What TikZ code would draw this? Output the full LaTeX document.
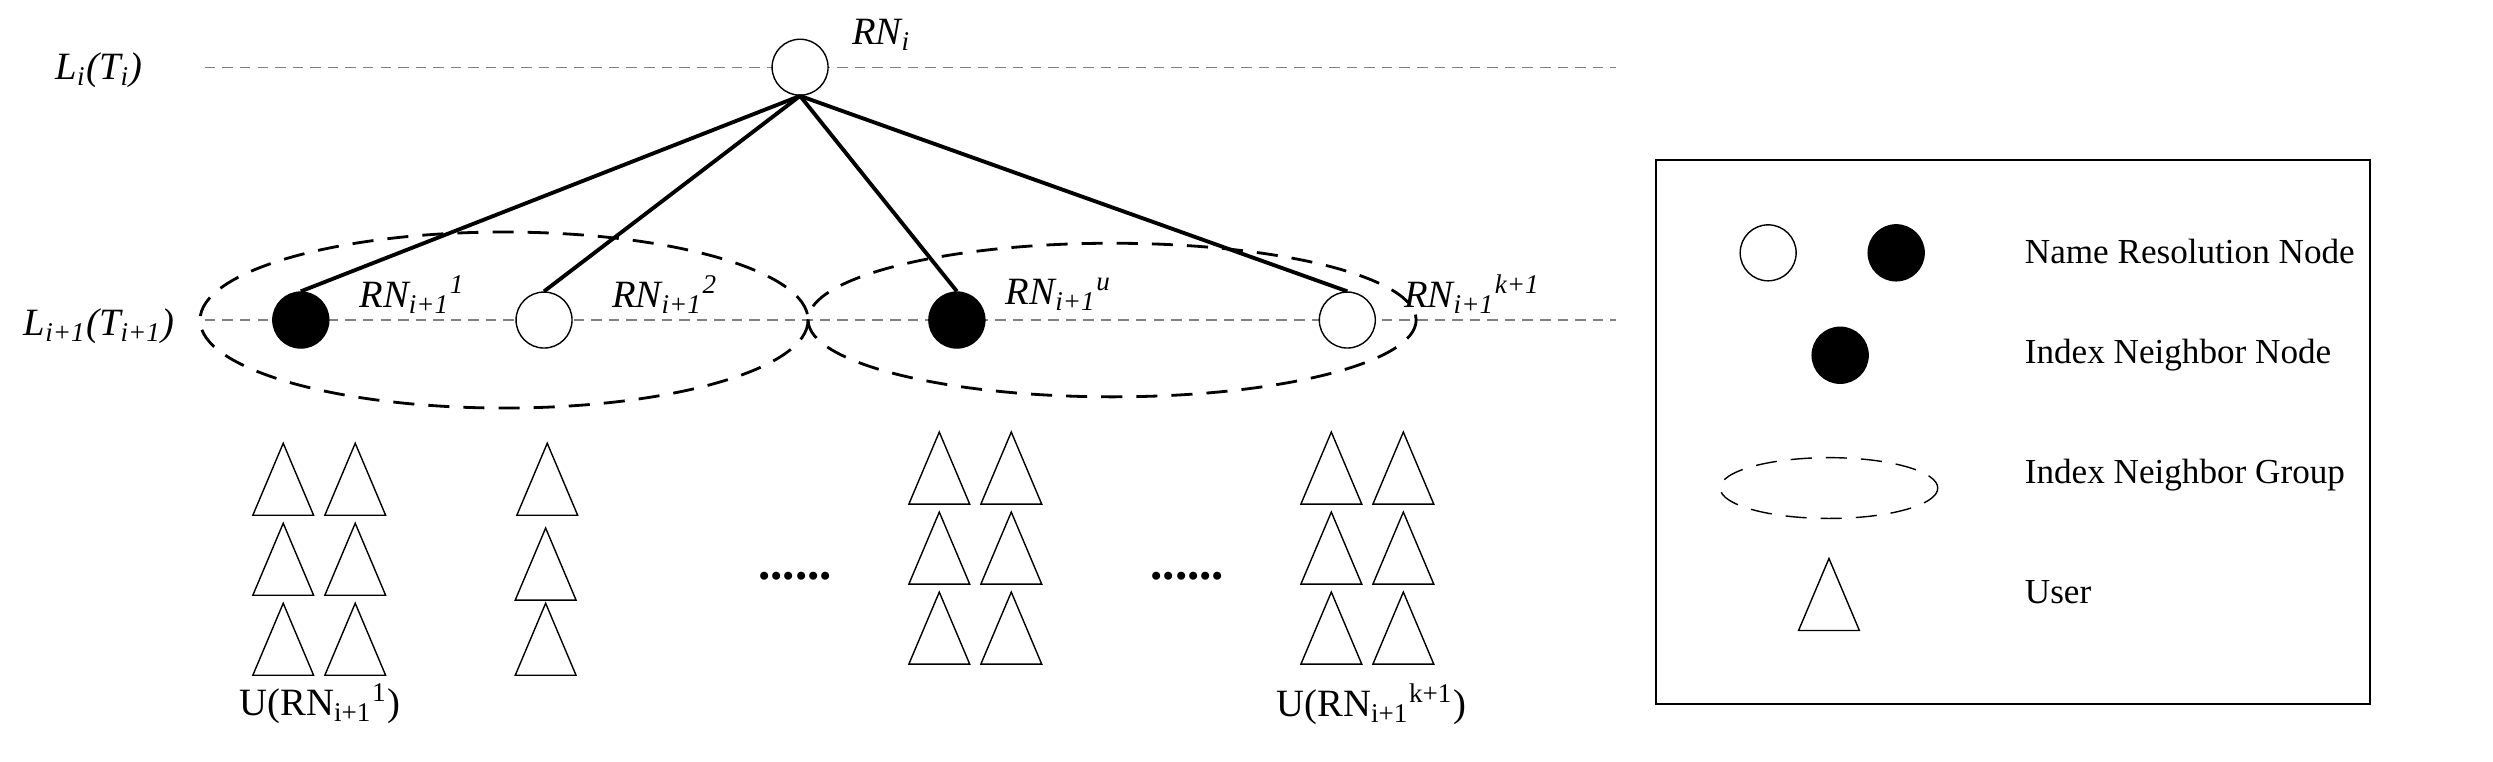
\documentclass[tikz,border=0pt]{standalone}
\usepackage{fontspec}
\setmainfont{Liberation Serif}
\begin{document}
\begin{tikzpicture}[x=0.016cm,y=-0.016cm,
  rn/.style={circle,draw,thin,minimum size=0.56cm,inner sep=0pt},
  rnf/.style={rn,fill=black},
  lvl/.style={densely dashed,gray,thin},
  grp/.style={dashed,thick,dash pattern=on 6pt off 4pt},
  edge/.style={line width=1.1pt},
  lab/.style={font=\fontsize{11}{13}\selectfont\itshape,inner sep=1pt},
  txt/.style={font=\fontsize{10}{12}\selectfont,anchor=west,inner sep=0pt},
  user/.pic={\draw[thin] (-19,22)--(19,22)--(0,-23)--cycle;}]
\useasboundingbox (0,0) rectangle (1558,476);
% levels
\draw[lvl] (128,42) -- (1010,42);
\draw[lvl] (128,200) -- (1010,200);
\node[lab] (li) at (62,44) {L\textsubscript{i}(T\textsubscript{i})};
\node[lab] (li1) at (62,204) {L\textsubscript{i+1}(T\textsubscript{i+1})};
% groups
\draw[grp] (315,200) ellipse [x radius=190,y radius=55];
\draw[grp] (695,200) ellipse [x radius=190,y radius=48];
% nodes
\node[rn,fill=white] (top) at (500,42) {};
\node[rnf] (a) at (188,200) {};
\node[rn,fill=white] (b) at (340,200) {};
\node[rnf] (c) at (598,200) {};
\node[rn,fill=white] (d) at (842,200) {};
\foreach \n in {a,b,c,d} \draw[edge] (top.south) -- (\n.north);
\node[lab,anchor=west] at (530,22) {RN\textsubscript{i}};
\node[lab,anchor=west] at (222,184) {RN\textsubscript{i+1}\textsuperscript{1}};
\node[lab,anchor=west] at (380,184) {RN\textsubscript{i+1}\textsuperscript{2}};
\node[lab,anchor=west] at (626,184) {RN\textsubscript{i+1}\textsuperscript{u}};
\node[lab,anchor=west] at (875,184) {RN\textsubscript{i+1}\textsuperscript{k+1}};
% users
\foreach \y in {300,350,400} {\pic at (177,\y) {user}; \pic at (222,\y) {user};}
\pic at (342,300) {user}; \pic at (341,353) {user}; \pic at (341,400) {user};
\foreach \y in {293,343,393} {\pic at (587,\y) {user}; \pic at (632,\y) {user};
  \pic at (832,\y) {user}; \pic at (877,\y) {user};}
\node[font=\bfseries\fontsize{14}{14}\selectfont] at (497,360) {......};
\node[font=\bfseries\fontsize{14}{14}\selectfont] at (742,360) {......};
\node[font=\fontsize{11}{13}\selectfont] at (200,440) {U(RN\textsubscript{i+1}\textsuperscript{1})};
\node[font=\fontsize{11}{13}\selectfont] at (857,440) {U(RN\textsubscript{i+1}\textsuperscript{k+1})};
% legend
\draw[thin] (1035,100) rectangle (1481,440);
\node[rn] (l1) at (1105,158) {};
\node[rnf] (l2) at (1185,158) {};
\node[txt] at (1265,157) {Name Resolution Node};
\node[rnf] (l3) at (1150,222) {};
\node[txt] at (1265,222) {Index Neighbor Node};
\draw[grp,thin] (1143,305) ellipse [x radius=68,y radius=19];
\node[txt] at (1265,297) {Index Neighbor Group};
\pic at (1143,372) {user};
\node[txt] at (1265,370) {User};
\end{tikzpicture}
\end{document}
